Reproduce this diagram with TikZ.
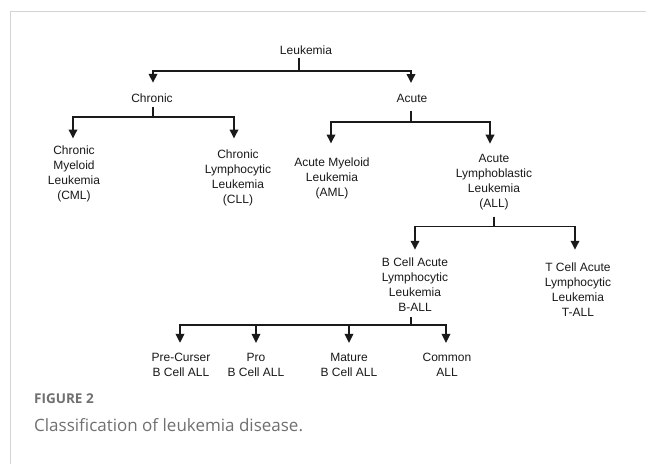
\documentclass[tikz,border=0pt]{standalone}
\usepackage{fontspec}
\setmainfont{Liberation Sans}
\newfontfamily\capfont{Open Sans}
\usetikzlibrary{arrows.meta}
\definecolor{framegray}{HTML}{D4D4D4}
\definecolor{capgray}{HTML}{707070}
\definecolor{ink}{HTML}{1A1A1A}
\begin{document}
\begin{tikzpicture}[x=1pt,y=-1pt,
  lbl/.style={font=\fontsize{12}{15}\selectfont, align=center, inner sep=0pt, text=ink},
  conn/.style={line width=1.8pt, draw=ink, -{Triangle[width=8.5pt,length=9pt]}},
  capsmall/.style={anchor=base west, inner sep=0pt, text=capgray, font=\capfont\bfseries\fontsize{13.5}{16}\selectfont},
  capbig/.style={anchor=base west, inner sep=0pt, text=capgray, font=\capfont\fontsize{17}{20}\selectfont}
]
\useasboundingbox (0,0) rectangle (646,464);
\fill[white] (0,0) rectangle (646,464);
\draw[framegray, line width=1pt] (646,11) -- (10,11) -- (10,464);

\node[lbl] (leuk) at (306,50) {Leukemia};
\node[lbl] (chronic) at (152,98) {Chronic};
\node[lbl] (acute) at (412,98) {Acute};
\node[lbl] (cml) at (74,173.5) {Chronic\\Myeloid\\Leukemia\\(CML)};
\node[lbl] (cll) at (238,177.5) {Chronic\\Lymphocytic\\Leukemia\\(CLL)};
\node[lbl] (aml) at (332,178) {Acute Myeloid\\Leukemia\\(AML)};
\node[lbl] (all) at (494,182.5) {Acute\\Lymphoblastic\\Leukemia\\(ALL)};
\node[lbl] (ball) at (415,284.5) {B Cell Acute\\Lymphocytic\\Leukemia\\B-ALL};
\node[lbl] (tall) at (578,289.5) {T Cell Acute\\Lymphocytic\\Leukemia\\T-ALL};
\node[lbl] (pre) at (181,364.5) {Pre-Curser\\B Cell ALL};
\node[lbl] (pro) at (256,364.5) {Pro\\B Cell ALL};
\node[lbl] (mat) at (349,364.5) {Mature\\B Cell ALL};
\node[lbl] (com) at (447,364.5) {Common\\ALL};

\draw[conn] ([xshift=-7pt,yshift=-3pt]leuk.south) -- ++(0,13) -| ([xshift=1pt,yshift=10.6pt]chronic.north);
\draw[conn] ([xshift=-7pt,yshift=-3pt]leuk.south) -- ++(0,13) -| ([xshift=-1pt,yshift=10.6pt]acute.north);

\draw[conn] ([xshift=1pt,yshift=-4.6pt]chronic.south) -- ++(0,10) -| ([xshift=-1pt,yshift=6.7pt]cml.north);
\draw[conn] ([xshift=1pt,yshift=-4.6pt]chronic.south) -- ++(0,10) -| ([xshift=-4pt,yshift=10.7pt]cll.north);

\draw[conn] ([xshift=-1pt,yshift=-8.6pt]acute.south) -- ++(0,11) -| ([xshift=-1pt,yshift=13.7pt]aml.north);
\draw[conn] ([xshift=-1pt,yshift=-8.6pt]acute.south) -- ++(0,11) -| ([xshift=-4pt,yshift=10.7pt]all.north);

\draw[conn] ([yshift=-6pt]all.south) -- ++(0,10) -| ([yshift=7.7pt]ball.north);
\draw[conn] ([yshift=-6pt]all.south) -- ++(0,10) -| ([xshift=-3pt,yshift=12.7pt]tall.north);

\draw[conn] ([xshift=-4pt,yshift=-5.7pt]ball.south) -- ++(0,8) -| ([xshift=-1pt,yshift=9.7pt]pre.north);
\draw[conn] ([xshift=-4pt,yshift=-5.7pt]ball.south) -- ++(0,8) -| ([yshift=9.7pt]pro.north);
\draw[conn] ([xshift=-4pt,yshift=-5.7pt]ball.south) -- ++(0,8) -| ([yshift=9.7pt]mat.north);
\draw[conn] ([xshift=-4pt,yshift=-5.7pt]ball.south) -- ++(0,8) -| ([xshift=-1pt,yshift=9.7pt]com.north);

\node[capsmall] (fig) at (34,403) {FIGURE 2};
\node[capbig] (cap) at (34,431) {Classification of leukemia disease.};
\end{tikzpicture}
\end{document}
